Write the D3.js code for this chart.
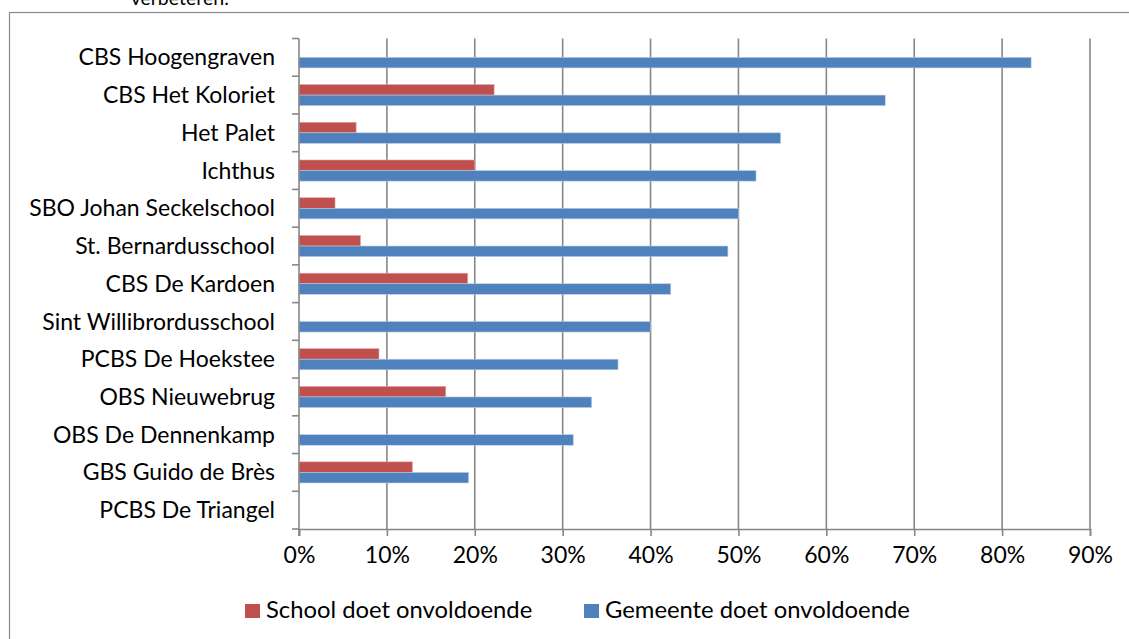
<html>
<head>
  <meta charset="utf-8">
  <script src="https://d3js.org/d3.v7.min.js"></script>
  <style>
    body { margin: 0; background: #fff; }
    text { font-family: Lato, "Liberation Sans", sans-serif; fill: #000; }
  </style>
</head>
<body>
<script>
  // schools, top to bottom
  var schools = ["CBS Hoogengraven", "CBS Het Koloriet", "Het Palet", "Ichthus",
                 "SBO Johan Seckelschool", "St. Bernardusschool", "CBS De Kardoen",
                 "Sint Willibrordusschool", "PCBS De Hoekstee", "OBS Nieuwebrug",
                 "OBS De Dennenkamp", "GBS Guido de Brès", "PCBS De Triangel"];
  var schoolValues = [0, 0.222, 0.065, 0.200, 0.041, 0.070, 0.192, 0, 0.091, 0.167, 0, 0.129, 0];
  var gemeenteValues = [0.833, 0.667, 0.548, 0.520, 0.500, 0.488, 0.423, 0.400, 0.363, 0.333, 0.312, 0.193, 0];
  var seriesNames = ["School doet onvoldoende", "Gemeente doet onvoldoende"];
  var seriesColors = ["#C0504D", "#4F81BD"];
  var xTicks = [0, 0.1, 0.2, 0.3, 0.4, 0.5, 0.6, 0.7, 0.8, 0.9];

  var width = 1129, height = 639;
  var plotLeft = 299, plotRight = 1090, plotTop = 38.5, plotBottom = 529;
  var labelSize = "23px", legendSize = "23.8px";

  var svg = d3.select("body").append("svg")
              .attr("width", width).attr("height", height);

  // chart frame (runs off the right and bottom edge)
  svg.append("rect")
     .attr("x", 9.5).attr("y", 12.5)
     .attr("width", 1140).attr("height", 650)
     .attr("fill", "none").attr("stroke", "#898989").attr("stroke-width", 1.2);

  // title, mostly cut off at the top
  svg.append("text")
     .attr("x", 180).attr("y", 5)
     .attr("text-anchor", "middle")
     .style("font-size", "19.5px")
     .text("verbeteren!");

  var x = d3.scaleLinear().domain([0, 0.9]).range([plotLeft, plotRight]);
  var y = d3.scaleBand().domain(schools).range([plotTop, plotBottom]).padding(0);
  var sub = d3.scaleBand().domain([0, 1])
              .range([y.bandwidth() * 0.22, y.bandwidth() * 0.78]).padding(0);

  // vertical gridlines
  svg.append("g").selectAll("line").data(xTicks.slice(1)).join("line")
     .attr("x1", function(d){ return x(d); }).attr("x2", function(d){ return x(d); })
     .attr("y1", plotTop).attr("y2", plotBottom)
     .attr("stroke", "#878787").attr("stroke-width", 1.6);

  // bars
  var rows = schools.map(function(s, i){ return {name: s, vals: [schoolValues[i], gemeenteValues[i]]}; });
  var groups = svg.append("g").selectAll("g").data(rows).join("g")
     .attr("transform", function(d){ return "translate(0," + y(d.name) + ")"; });
  groups.selectAll("rect")
     .data(function(d){ return d.vals.map(function(v, k){ return {v: v, k: k}; }).filter(function(e){ return e.v > 0; }); })
     .join("rect")
     .attr("x", x(0))
     .attr("y", function(d){ return sub(d.k); })
     .attr("width", function(d){ return x(d.v) - x(0); })
     .attr("height", sub.bandwidth())
     .attr("fill", function(d){ return seriesColors[d.k]; })
     .attr("stroke", function(d){ return d.k === 0 ? "#e3a9a8" : "#b9cde6"; })
     .attr("stroke-width", 0.6);

  // x axis
  var xAxis = d3.axisBottom(x).tickValues(xTicks).tickSize(7).tickPadding(11)
                .tickFormat(d3.format(".0%"));
  var gx = svg.append("g").attr("transform", "translate(0," + plotBottom + ")").call(xAxis);
  gx.select(".domain").attr("stroke", "#878787").attr("stroke-width", 1.6);
  gx.selectAll(".tick line").attr("stroke", "#878787").attr("stroke-width", 1.6);
  gx.selectAll(".tick text").style("font-size", labelSize).attr("font-family", null);

  // y axis: ticks at category boundaries
  var boundaries = d3.range(schools.length + 1).map(function(i){ return plotTop + i * y.step(); });
  svg.append("g").selectAll("line").data(boundaries).join("line")
     .attr("x1", plotLeft - 7).attr("x2", plotLeft)
     .attr("y1", function(d){ return d; }).attr("y2", function(d){ return d; })
     .attr("stroke", "#878787").attr("stroke-width", 1.6);
  svg.append("line")
     .attr("x1", plotLeft).attr("x2", plotLeft).attr("y1", plotTop).attr("y2", plotBottom + 7)
     .attr("stroke", "#878787").attr("stroke-width", 1.6);
  svg.append("g").selectAll("text").data(schools).join("text")
     .attr("x", plotLeft - 24)
     .attr("y", function(d){ return y(d) + y.bandwidth() / 2; })
     .attr("dy", "0.35em")
     .attr("text-anchor", "end")
     .style("font-size", labelSize)
     .text(function(d){ return d; });

  // legend
  var legendX = [245, 584];
  var lg = svg.append("g").selectAll("g").data(seriesNames).join("g")
     .attr("transform", function(d, i){ return "translate(" + legendX[i] + ",604)"; });
  lg.append("rect").attr("width", 15).attr("height", 14)
     .attr("fill", function(d, i){ return seriesColors[i]; });
  lg.append("text").attr("x", 21).attr("y", 14)
     .style("font-size", legendSize)
     .text(function(d){ return d; });
</script>
</body>
</html>
